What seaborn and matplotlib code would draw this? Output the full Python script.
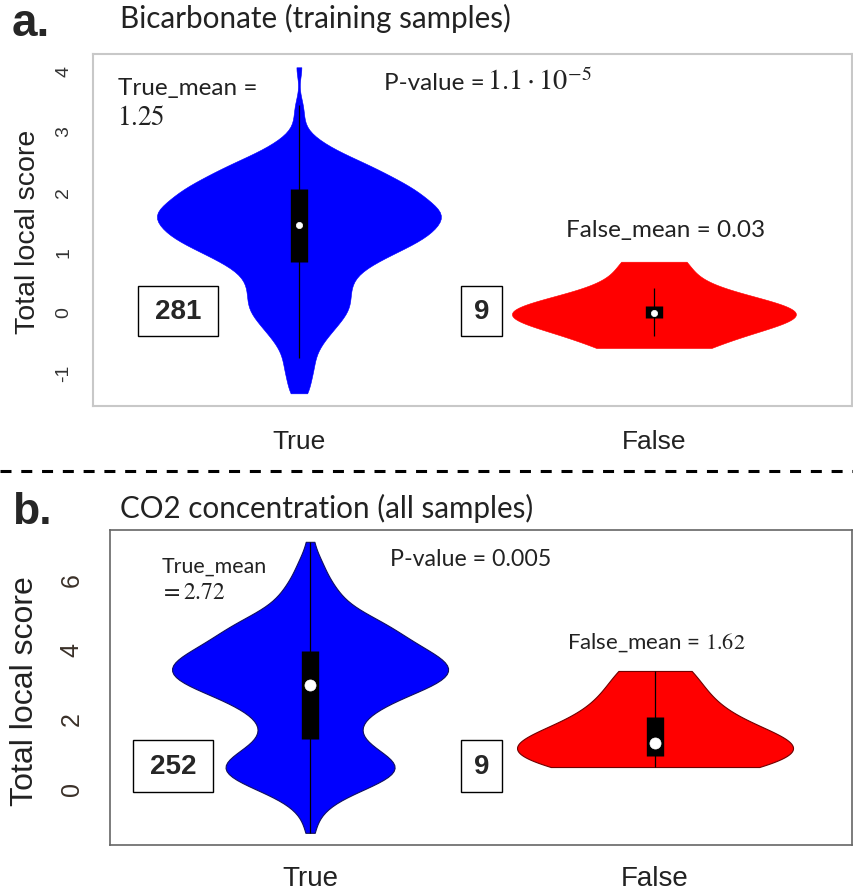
import numpy as np
import pandas as pd
import matplotlib
matplotlib.use("Agg")
import matplotlib.pyplot as plt
import seaborn as sns
from matplotlib.patches import Rectangle
from matplotlib.lines import Line2D

sns.set_style("white")
plt.rcParams["font.family"] = ["Liberation Sans", "DejaVu Sans"]
plt.rcParams["mathtext.fontset"] = "stix"

groups = ["True", "False"]
colors = {"True": "#0000ff", "False": "#ff0000"}

# Panel a: bicarbonate, training samples (binned scores and counts)
a_true_values = [-1.33, -1.15, -0.95, -0.75, -0.55, -0.35, -0.15, 0.05, 0.25,
                 0.45, 0.65, 0.85, 1.05, 1.25, 1.45, 1.65, 1.85, 2.05, 2.25,
                 2.45, 2.65, 2.85, 3.05, 3.25, 3.45, 4.07]
a_true_counts = [2, 2, 3, 3, 4, 6, 8, 10, 10,
                 10, 11, 15, 20, 25, 27, 29, 25, 23, 18,
                 14, 8, 4, 1, 1, 1, 1]
a_false_values = [-0.58, -0.38, -0.09, -0.02, 0.0, 0.0, 0.11, 0.41, 0.85]
a_yticks = [-1, 0, 1, 2, 3, 4]

# Panel b: CO2 concentration, all samples
b_true_values = [-1.26, -0.9, -0.6, -0.3, 0.0, 0.3, 0.6, 0.9, 1.2, 1.5, 1.8,
                 2.1, 2.4, 2.7, 3.0, 3.3, 3.6, 3.9, 4.2, 4.5, 4.8, 5.1, 5.4,
                 5.7, 6.0, 6.3, 6.6, 7.1]
b_true_counts = [1, 1, 2, 4, 8, 12, 14, 12, 9, 7, 7,
                 8, 11, 14, 19, 21, 21, 18, 15, 13, 11, 7, 5,
                 4, 3, 2, 2, 1]
b_false_values = [0.63, 0.88, 0.95, 1.2, 1.32, 1.55, 2.07, 2.6, 3.39]
b_yticks = [0, 2, 4, 6]

a_means = {"True": "1.25", "False": "0.03"}
b_means = {"True": "2.72", "False": "1.62"}
a_pvalue = r"$1.1 \cdot 10^{-5}$"
b_pvalue = "0.005"

W, H = 854, 894
fig = plt.figure(figsize=(W / 100, H / 100), dpi=100)


def px_axes(left, top, right, bottom):
    return fig.add_axes([left / W, 1 - bottom / H, (right - left) / W, (bottom - top) / H])


def frame(true_vals, true_counts, false_vals):
    t = np.repeat(true_vals, true_counts)
    return pd.DataFrame({
        "group": ["True"] * len(t) + ["False"] * len(false_vals),
        "score": np.concatenate([t, np.asarray(false_vals, dtype=float)]),
    })


def draw(ax, df, bw, dot, edge_lw, edge_color):
    for grp in groups:
        sns.violinplot(
            data=df[df["group"] == grp], x="group", y="score", hue="group",
            order=groups, hue_order=groups, palette=colors, legend=False,
            dodge=False, cut=0, density_norm="width", width=0.8,
            bw_adjust=bw[grp], saturation=1, inner="box",
            linewidth=edge_lw, linecolor=edge_color[grp],
            inner_kws=dict(box_width=12.5, whis_width=0.9, color="black",
                           marker="o", markersize=dot, markeredgewidth=0.5,
                           solid_capstyle="butt"),
            ax=ax,
        )


def ftext(x, y, s, **kw):
    fig.text(x / W, 1 - y / H, s, **kw)


def count_box(x0, y0, x1, y1, label):
    fig.patches.append(Rectangle((x0 / W, 1 - y1 / H), (x1 - x0) / W, (y1 - y0) / H,
                                 transform=fig.transFigure, fill=False,
                                 edgecolor="black", linewidth=1.0))
    ftext((x0 + x1) / 2, (y0 + y1) / 2 + 1, label, ha="center", va="center",
          fontsize=20, fontweight="bold")


# ---------------- panel a ----------------
ax_a = px_axes(93, 54, 852, 406)
draw(ax_a, frame(a_true_values, a_true_counts, a_false_values),
     bw={"True": 0.55, "False": 1.0}, dot=4.5, edge_lw=0.4,
     edge_color={"True": "#0000ff", "False": "#ff0000"})
ax_a.set_xlim(-0.58, 1.558)
ax_a.set_ylim(-1.54, 4.29)
ax_a.set_yticks(a_yticks)
ax_a.set_yticklabels([str(v) for v in a_yticks])
ax_a.set_xlabel("")
ax_a.set_ylabel("")
for s in ax_a.spines.values():
    s.set_color("#c8c8c8")
    s.set_linewidth(1.5)
ax_a.tick_params(axis="y", length=0, pad=15, labelsize=14, labelcolor="#333333")
ax_a.tick_params(axis="x", length=6, width=1, color="#c8c8c8", pad=11,
                 labelsize=19, labelcolor="#222222")
plt.setp(ax_a.get_yticklabels(), rotation=90, va="center")

# ---------------- panel b ----------------
ax_b = px_axes(110, 530, 852, 845)
draw(ax_b, frame(b_true_values, b_true_counts, b_false_values),
     bw={"True": 0.55, "False": 1.0}, dot=8.0, edge_lw=0.8,
     edge_color={"True": "#101060", "False": "#700000"})
ax_b.set_xlim(-0.58, 1.571)
ax_b.set_ylim(-1.61, 7.44)
ax_b.set_yticks(b_yticks)
ax_b.set_yticklabels([str(v) for v in b_yticks])
ax_b.set_xlabel("")
ax_b.set_ylabel("")
for s in ax_b.spines.values():
    s.set_color("#666666")
    s.set_linewidth(1.2)
ax_b.tick_params(axis="y", length=12, width=1.2, color="#666666", pad=7,
                 labelsize=18, labelcolor="#3a3028")
ax_b.tick_params(axis="x", length=11, width=1.2, color="#666666", pad=4,
                 labelsize=20, labelcolor="#222222")
plt.setp(ax_b.get_yticklabels(), rotation=90, va="center")

# ---------------- annotations ----------------
ftext(28, 232, "Total local score", rotation=90, ha="center", va="center",
      fontsize=20.5, color="#222222")
ftext(25, 691, "Total local score", rotation=90, ha="center", va="center",
      fontsize=23, color="#222222")

ftext(12, 36, "a.", fontsize=33, fontweight="bold", ha="left", va="baseline")
ftext(12, 524, "b.", fontsize=32, fontweight="bold", ha="left", va="baseline")

sans2 = ["Lato", "DejaVu Sans"]
ftext(120, 28, "Bicarbonate (training samples)", family=sans2, fontsize=21.3,
      ha="left", va="baseline", color="#222222")
ftext(120, 518, "CO2 concentration (all samples)", family=sans2, fontsize=21.3,
      ha="left", va="baseline", color="#222222")

ftext(118, 88, "True_mean =", family=sans2, fontsize=17.5, ha="left", va="center",
      color="#222222")
ftext(117, 118, "$" + a_means["True"] + "$", fontsize=19.5, ha="left", va="center",
      color="#222222")
ftext(384, 84, "P-value =", family=sans2, fontsize=17.5, ha="left",
      va="center", color="#222222")
ftext(487, 82, a_pvalue, fontsize=20.4, ha="left", va="center", color="#222222")
ftext(566, 231, "False_mean = " + a_means["False"], family=sans2, fontsize=17.5,
      ha="left", va="center", color="#222222")

ftext(162, 567, "True_mean", family=sans2, fontsize=15.4, ha="left", va="center",
      color="#222222")
ftext(160, 593, "$= " + b_means["True"] + "$", fontsize=17, ha="left",
      va="center", color="#222222")
ftext(390, 560, "P-value = " + b_pvalue, family=sans2, fontsize=16.7, ha="left",
      va="center", color="#222222")
ftext(567, 643, "False_mean = $" + b_means["False"] + "$", family=sans2,
      fontsize=16, ha="left", va="center", color="#222222")

count_box(138, 286, 218, 336, "281")
count_box(461, 286, 502, 336, "9")
count_box(133, 740, 213, 792, "252")
count_box(461, 740, 502, 792, "9")

fig.add_artist(Line2D([0, 1], [1 - 471 / H, 1 - 471 / H], transform=fig.transFigure,
                      color="black", linewidth=2.2, linestyle=(0, (3.6, 3.2))))

fig.savefig("out.png", dpi=100)
